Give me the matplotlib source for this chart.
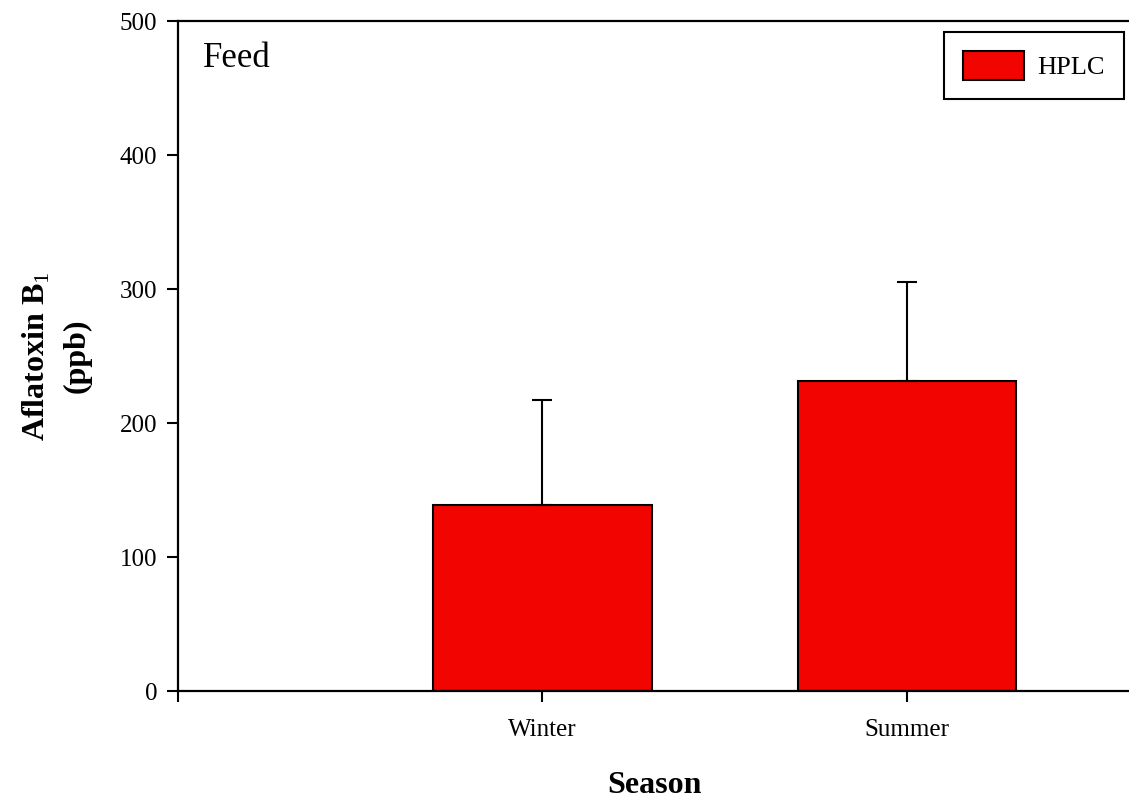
import matplotlib
matplotlib.use("Agg")
import matplotlib.pyplot as plt
from matplotlib.patches import Rectangle
from matplotlib.legend_handler import HandlerPatch

# Aflatoxin B1 in feed by season (HPLC)
seasons = ["Winter", "Summer"]
hplc_mean = [139, 231]
hplc_sd = [78, 74]
y_ticks = [0, 100, 200, 300, 400, 500]

plt.rcParams["font.family"] = ["Liberation Serif", "DejaVu Serif"]
plt.rcParams["mathtext.fontset"] = "custom"
plt.rcParams["mathtext.rm"] = "Liberation Serif"
plt.rcParams["mathtext.bf"] = "Liberation Serif:bold"

W, H, DPI = 1129, 801, 100
fig = plt.figure(figsize=(W / DPI, H / DPI), dpi=DPI)
ax = fig.add_axes([178 / W, 1 - 691 / H, (1131 - 178) / W, (691 - 21) / H])

x = [1, 2]
ax.bar(x, hplc_mean, width=0.6, color="#f20500", edgecolor="black",
       linewidth=1.5, label="HPLC", zorder=2)
ax.errorbar(x, hplc_mean, yerr=[[0] * len(hplc_sd), hplc_sd], fmt="none",
            ecolor="black", elinewidth=1.5, capsize=7.5, capthick=1.5, zorder=3)

ax.set_xlim(0, 2.615)
ax.set_ylim(0, 500)
ax.set_yticks(y_ticks)
ax.set_yticklabels([str(v) for v in y_ticks])
ax.set_xticks([0] + x)
ax.set_xticklabels([""] + seasons)

for side in ("left", "top", "bottom"):
    ax.spines[side].set_linewidth(1.6)
    ax.spines[side].set_color("black")
ax.spines["right"].set_visible(False)

ax.tick_params(axis="y", direction="out", length=8, width=1.5, pad=7,
               labelsize=18)
ax.tick_params(axis="x", direction="out", length=8, width=1.5, pad=12,
               labelsize=18)

ax.set_xlabel("Season", fontsize=23, fontweight="bold", labelpad=22)
ax.set_ylabel("Aflatoxin B$_1$\n(ppb)", fontsize=23, fontweight="bold",
              labelpad=20, linespacing=1.5)

ax.text(203 / W, 1 - 67 / H, "Feed", transform=fig.transFigure,
        fontsize=25, ha="left", va="baseline")


def short_box(legend, orig, xdescent, ydescent, width, height, fontsize):
    # legend swatch a bit shorter than its row
    h = height * 0.55
    return Rectangle((-xdescent, -ydescent + (height - h) / 2), width, h)


leg = ax.legend(loc="upper right", bbox_to_anchor=(1124 / W, 1 - 32 / H),
                bbox_transform=fig.transFigure, borderaxespad=0,
                fontsize=19, frameon=True, fancybox=False, framealpha=1,
                edgecolor="black", handlelength=2.3, handleheight=1.32,
                handletextpad=0.53, borderpad=0.72,
                handler_map={Rectangle: HandlerPatch(patch_func=short_box)})
leg.get_frame().set_linewidth(1.5)

fig.savefig("out.png", dpi=DPI)
